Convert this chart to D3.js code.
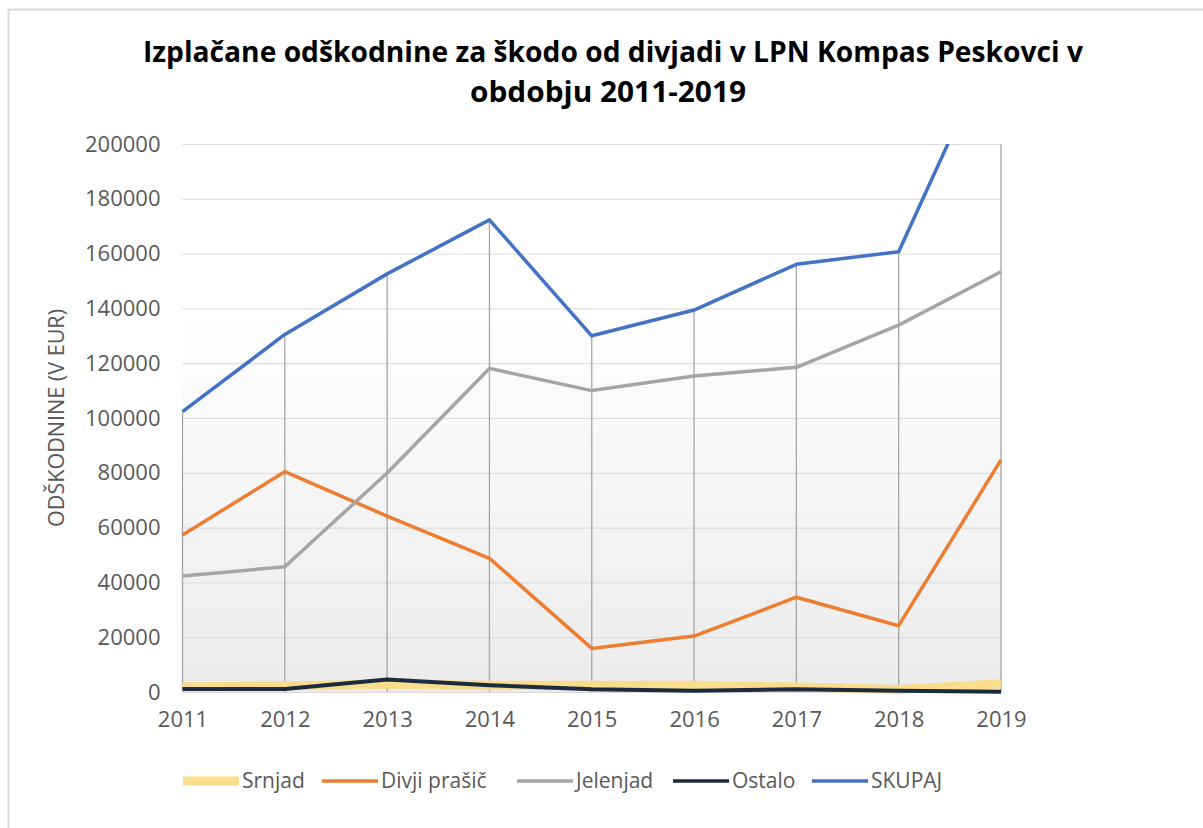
<!DOCTYPE html>
<html>
<head>
<meta charset="utf-8">
<script src="https://cdn.jsdelivr.net/npm/d3@7/dist/d3.min.js"></script>
<style>
  html, body { margin: 0; padding: 0; background: #ffffff; }
  svg { display: block; }
</style>
</head>
<body>
<svg id="chart" width="1203" height="828"></svg>
<script>
const years = ["2011","2012","2013","2014","2015","2016","2017","2018","2019"];
const srnjad     = [1800, 2300, 2800, 2500, 2500, 2500, 1800, 900, 3000];
const divjiPrasic = [57300, 80400, 64200, 48800, 15900, 20400, 34600, 24200, 84700];
const jelenjad   = [42300, 45700, 79900, 118100, 110000, 115300, 118500, 133900, 153400];
const ostalo     = [1100, 1100, 4600, 2500, 1000, 500, 1000, 500, 100];
const skupaj     = [102300, 130500, 152600, 172300, 130000, 139400, 156100, 160700, 242500];
const yTicks = [0, 20000, 40000, 60000, 80000, 100000, 120000, 140000, 160000, 180000, 200000];
const seriesNames = ["Srnjad", "Divji prašič", "Jelenjad", "Ostalo", "SKUPAJ"];
const seriesColors = ["#F9DD8C", "#ED7D31", "#A5A5A5", "#1C2B3F", "#4472C4"];
const seriesWidths = [9, 3.5, 3.5, 4, 3.5];

const seriesValues = [srnjad, divjiPrasic, jelenjad, ostalo, skupaj];

const svg = d3.select("#chart");
const pLeft = 182.5, pRight = 1001, pTop = 144, pBottom = 692;
const font = "'Open Sans', 'DejaVu Sans', sans-serif";
const txtColor = "#595959";

// outer border
svg.append("rect").attr("x", 8.5).attr("y", 9.5).attr("width", 1300).attr("height", 1000)
  .attr("fill", "#ffffff").attr("stroke", "#d9d9d9").attr("stroke-width", 2);

const x = d3.scalePoint().domain(years).range([pLeft, pRight]);
const y = d3.scaleLinear().domain([0, 200000]).range([pBottom, pTop]);

const defs = svg.append("defs");
const grad = defs.append("linearGradient").attr("id", "bg").attr("x1", 0).attr("y1", 0).attr("x2", 0).attr("y2", 1);
grad.append("stop").attr("offset", "0").attr("stop-color", "#ffffff");
grad.append("stop").attr("offset", "0.3").attr("stop-color", "#ffffff");
grad.append("stop").attr("offset", "1").attr("stop-color", "#ebebeb");
defs.append("clipPath").attr("id", "plotclip").append("rect")
  .attr("x", pLeft - 10).attr("y", pTop).attr("width", pRight - pLeft + 20).attr("height", pBottom - pTop + 10);

svg.append("rect").attr("x", pLeft).attr("y", pTop).attr("width", pRight - pLeft).attr("height", pBottom - pTop)
  .attr("fill", "url(#bg)");

// horizontal gridlines via axis
const yAxis = svg.append("g").attr("transform", `translate(${pLeft},0)`)
  .call(d3.axisLeft(y).tickValues(yTicks).tickSize(-(pRight - pLeft)).tickPadding(22).tickFormat(d3.format("d")));
yAxis.select(".domain").remove();
yAxis.selectAll(".tick line").attr("stroke", "#d9d9d9").attr("stroke-width", 1);
yAxis.selectAll(".tick text").attr("fill", txtColor).attr("font-family", font).attr("font-size", 22);

// x axis labels
const xAxis = svg.append("g").attr("transform", `translate(0,${pBottom})`)
  .call(d3.axisBottom(x).tickSize(0).tickPadding(19));
xAxis.select(".domain").remove();
xAxis.selectAll(".tick text").attr("fill", txtColor).attr("font-family", font).attr("font-size", 22);

const plot = svg.append("g").attr("clip-path", "url(#plotclip)");

// drop lines
plot.selectAll("line.drop").data(years).enter().append("line")
  .attr("class", "drop")
  .attr("x1", d => x(d)).attr("x2", d => x(d))
  .attr("y1", (d, i) => y(d3.max(seriesValues, s => s[i])))
  .attr("y2", y(0))
  .attr("stroke", "#a6a6a6").attr("stroke-width", 1.3);

const line = d3.line().x((d, i) => x(years[i])).y(d => y(d));
seriesValues.forEach((vals, k) => {
  plot.append("path").datum(vals).attr("d", line)
    .attr("fill", "none").attr("stroke", seriesColors[k]).attr("stroke-width", seriesWidths[k])
    .attr("stroke-linejoin", "round").attr("stroke-linecap", "butt");
});

// title
svg.append("text").attr("x", 613).attr("y", 62).attr("text-anchor", "middle")
  .attr("font-family", font).attr("font-weight", 700).attr("font-size", 28).attr("fill", "#000")
  .attr("textLength", 940).attr("lengthAdjust", "spacingAndGlyphs")
  .text("Izplačane  odškodnine  za škodo od divjadi v LPN Kompas Peskovci v");
svg.append("text").attr("x", 608).attr("y", 102).attr("text-anchor", "middle")
  .attr("font-family", font).attr("font-weight", 700).attr("font-size", 28).attr("fill", "#000")
  .attr("textLength", 276).attr("lengthAdjust", "spacingAndGlyphs")
  .text("obdobju  2011-2019");

// y axis title
svg.append("text").attr("transform", "translate(64,418) rotate(-90)").attr("text-anchor", "middle")
  .attr("font-family", font).attr("font-size", 21).attr("fill", txtColor)
  .attr("textLength", 218).attr("lengthAdjust", "spacingAndGlyphs")
  .text("ODŠKODNINE (V EUR)");

// legend
const legendX = [183, 322, 517, 673, 812];
const lg = svg.append("g");
seriesNames.forEach((name, k) => {
  lg.append("line").attr("x1", legendX[k]).attr("x2", legendX[k] + 56).attr("y1", 781).attr("y2", 781)
    .attr("stroke", seriesColors[k]).attr("stroke-width", k === 0 ? 9 : 3.5);
  lg.append("text").attr("x", legendX[k] + 59).attr("y", 781).attr("dy", "0.35em")
    .attr("font-family", font).attr("font-size", 21).attr("fill", txtColor).text(name);
});
</script>
</body>
</html>
